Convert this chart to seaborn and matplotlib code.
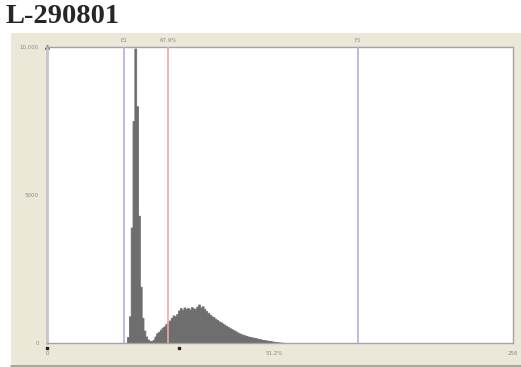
import numpy as np
import pandas as pd
import matplotlib
matplotlib.use("Agg")
import matplotlib.pyplot as plt
import seaborn as sns
from matplotlib.patches import Rectangle

# Histogram counts per channel, channels 44..131
channels = list(range(44, 132))
counts = [
    200, 900, 3900, 7500, 9950, 8000, 4300, 1900, 850, 420,
    220, 120, 70, 60, 110, 220, 330, 380, 450, 520,
    560, 640, 700, 760, 850, 930, 900, 980, 1100, 1180,
    1120, 1200, 1150, 1180, 1130, 1210, 1170, 1150, 1230, 1300,
    1200, 1240, 1150, 1080, 1020, 960, 900, 870, 820, 780,
    730, 700, 660, 620, 580, 540, 500, 470, 430, 400,
    360, 330, 300, 280, 260, 240, 220, 200, 190, 175,
    165, 150, 135, 120, 105, 95, 85, 75, 65, 55,
    45, 35, 28, 20, 14, 10, 6, 3,
]

# Gate markers
gate_pos = [42.3, 66.5, 170.8]
gate_colors = ["#b0b0e2", "#f0a8a8", "#b0b0e2"]
gate_labels = ["E1", "67.9%", "F1"]

x_ticks = [0, 125, 256]
x_ticklabels = ["0", "51.2%", "256"]
y_ticks = [0, 5000, 10000]
y_ticklabels = ["0", "5000", "10,000"]
cursor_marks = [0, 72.5]

df = pd.DataFrame({"channel": channels, "count": counts})

sns.set_style("white")
fig = plt.figure(figsize=(5.21, 3.67), dpi=100)
fig.patch.set_facecolor("white")

# beige panel behind the plot
fig.patches.append(Rectangle((0.021, 0.0), 0.979, 0.91, transform=fig.transFigure,
                             facecolor="#ebe8d8", edgecolor="none", zorder=-5))
fig.lines.append(plt.Line2D([0.021, 1.0], [0.003, 0.003], transform=fig.transFigure,
                            color="#9a9a90", lw=1.2, zorder=-4))

ax = fig.add_axes([0.0902, 0.0654, 0.8944, 0.8065])
ax.set_facecolor("white")

sns.histplot(data=df, x="channel", weights="count", binwidth=1, binrange=(0, 256),
             element="step", fill=True, color="#6e6e6e", alpha=1,
             linewidth=0.6, edgecolor="#6e6e6e", ax=ax)

for p, c in zip(gate_pos, gate_colors):
    ax.axvline(p, color=c, lw=1.2, zorder=3)

ax.set_xlim(0, 256)
ax.set_ylim(0, 10000)
ax.set_xticks(x_ticks)
ax.set_xticklabels(x_ticklabels, fontsize=4, color="#8a8a80")
ax.set_yticks(y_ticks)
ax.set_yticklabels(y_ticklabels, fontsize=4, color="#8a8a80")
ax.tick_params(length=0, pad=6)
ax.set_xlabel("")
ax.set_ylabel("")
for s in ax.spines.values():
    s.set_color("#a4a4a4")
    s.set_linewidth(1)
ax.spines["left"].set_color("#c4c4d4")
ax.spines["left"].set_linewidth(2)

for p, lab in zip(gate_pos, gate_labels):
    ax.text(p, 1.012, lab, transform=ax.get_xaxis_transform(), ha="center",
            va="bottom", fontsize=4, color="#8a8a80")

ax.plot(cursor_marks, [-180, -180], "s", color="#222222", ms=2, clip_on=False)
ax.plot([0], [10000], "^", color="#222222", ms=2.5, clip_on=False)

fig.text(0.0096, 0.99, "L-290801", ha="left", va="top", fontsize=20.5,
         fontweight="bold", family=["Liberation Serif", "DejaVu Serif"])

fig.savefig("out.png", dpi=100)
